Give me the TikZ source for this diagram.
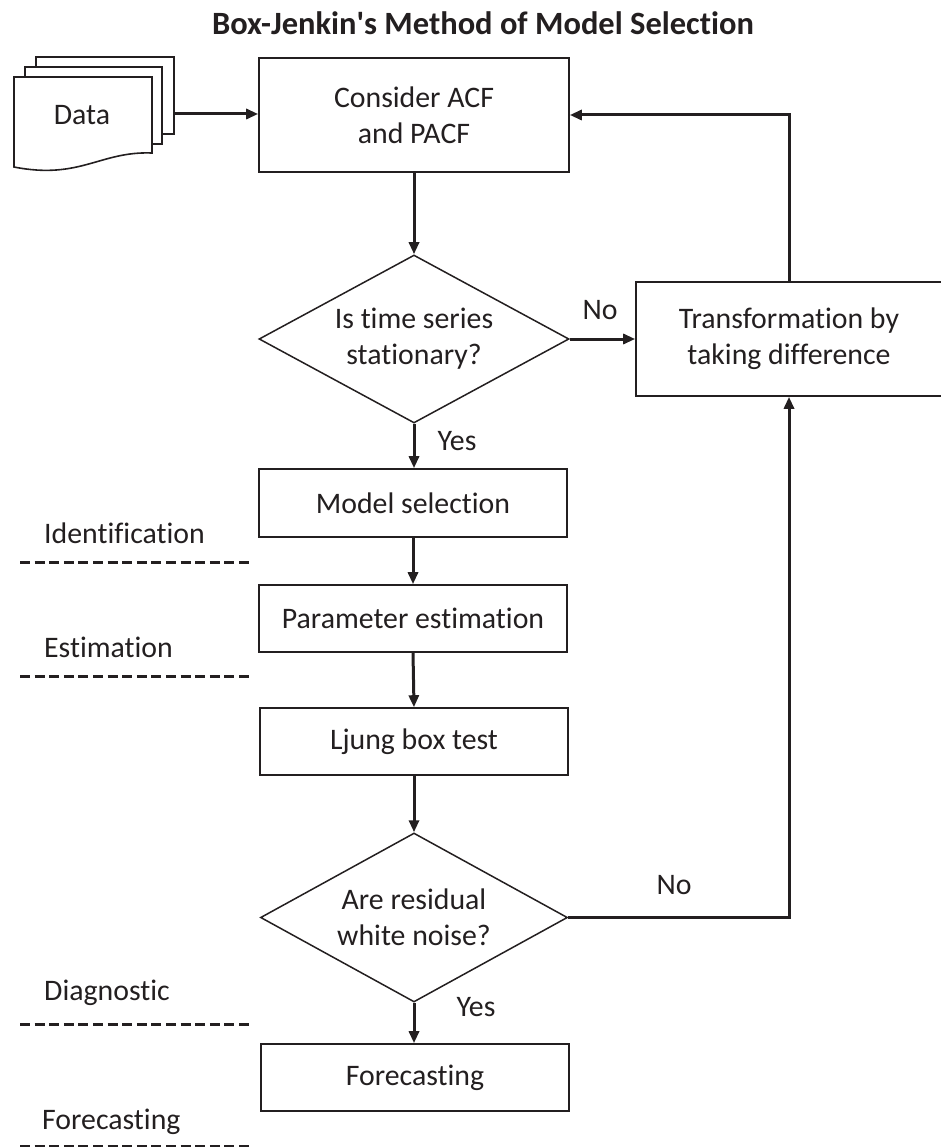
\documentclass[tikz,border=0pt]{standalone}
\usepackage{fontspec}
\setmainfont{Carlito}[Ligatures={NoCommon,NoRequired,NoContextual}]
\usetikzlibrary{arrows.meta,shapes.geometric,calc}
\definecolor{ink}{HTML}{231F20}
\begin{document}
\begin{tikzpicture}[x=1pt,y=-1pt,
  every node/.style={text=ink},
  bodytxt/.style={font=\fontsize{29.8}{36}\selectfont, align=center},
  procbox/.style={bodytxt, draw=ink, line width=1.6pt, fill=white, minimum width=308pt, inner sep=0pt},
  decbox/.style={bodytxt, draw=ink, line width=1.5pt, diamond, aspect=1.85, minimum width=310pt, minimum height=168pt, inner sep=0pt},
  arr/.style={draw=ink, line width=3pt, -{Triangle[length=12pt,width=10pt]}},
  phase/.style={bodytxt, anchor=west, inner sep=0pt},
  sep/.style={draw=ink, line width=3pt, dash pattern=on 10pt off 4.6pt},
  lbl/.style={bodytxt, inner sep=0pt},
  sheet/.style={draw=ink, line width=1.6pt, fill=white}
]
\useasboundingbox (0,0) rectangle (941,1147);

% title
\node[font=\fontsize{32.5}{39}\selectfont\bfseries] (title) at (483,23) {Box-Jenkin\textquotesingle s Method of Model Selection};

% data stack
\draw[sheet] (36,57) rectangle (174,134);
\draw[sheet] (25,67) rectangle (162,144);
\draw[sheet] (14,77) -- (152,77) -- (152,153) .. controls (100,151) and (80,180) .. (14,167) -- cycle;
\node[bodytxt, inner sep=0pt] (data) at (82,115) {Data};
\coordinate (dataout) at (174,114);

% main nodes
\node[procbox, minimum width=310pt, minimum height=114pt] (acf) at (414,115) {Consider ACF\\and PACF};
\node[decbox] (d1) at (414,339) {Is time series\\stationary?};
\node[procbox, minimum width=306pt, minimum height=114pt] (trans) at (789,339) {Transformation by\\taking difference};
\node[procbox, minimum height=68pt] (ms) at (413,503) {Model selection};
\node[procbox, minimum height=67pt] (pe) at (413,618.5) {Parameter estimation};
\node[procbox, minimum height=67pt] (lj) at (414,741.5) {Ljung box test};
\node[decbox, minimum width=307pt, minimum height=169pt] (d2) at (414,917.5) {Are residual\\white noise?};
\node[procbox, minimum height=67pt] (fc) at (415,1077.5) {Forecasting};

% connectors
\draw[arr] (dataout) -- (acf.west |- dataout);
\draw[arr] (acf.south) -- (d1.north);
\draw[arr] (d1.east) -- (trans.west);
\draw[arr] (trans.north) |- (acf.east);
\draw[arr] (d1.south) -- (ms.north -| d1.south);
\draw[arr] (ms.south) -- (pe.north);
\draw[arr] (pe.south) -- (lj.north);
\draw[arr] (lj.south) -- (d2.north);
\draw[arr] (d2.south) -- (fc.north -| d2.south);
\draw[arr] (d2.east) -| (trans.south);

% branch labels
\node[lbl] (no1) at (600,310) {No};
\node[lbl] (yes1) at (457,441) {Yes};
\node[lbl] (no2) at (674,885) {No};
\node[lbl] (yes2) at (476,1007) {Yes};

% phase labels and separators
\node[phase] (pid) at (44,533) {Identification};
\draw[sep] (20,562) -- (252,562);
\node[phase] (pes) at (44,647) {Estimation};
\draw[sep] (20,676) -- (252,676);
\node[phase] (pdi) at (44,993) {Diagnostic};
\draw[sep] (20,1024) -- (252,1024);
\node[phase] (pfc) at (42,1122) {Forecasting};
\draw[sep] (20,1146.5) -- (252,1146.5);
\end{tikzpicture}
\end{document}
